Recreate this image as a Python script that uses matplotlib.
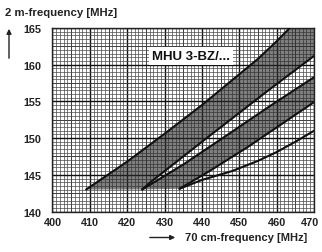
import matplotlib
matplotlib.use("Agg")
import matplotlib.pyplot as plt
from matplotlib.ticker import MultipleLocator
from matplotlib.transforms import ScaledTranslation
import numpy as np

# ---- data ----
x_ticks = [400, 410, 420, 430, 440, 450, 460, 470]
y_ticks = [140, 145, 150, 155, 160, 165]

band_a_upper_x = [409, 420, 430, 440, 450, 455, 460, 463.5, 470]
band_a_upper_y = [143, 146.8, 150.6, 154.5, 158.7, 160.8, 163.2, 165.0, 168.5]
band_a_lower_x = [424, 426, 440, 458, 470]
band_a_lower_y = [143, 143.9, 149.5, 156.6, 161.2]

band_b_upper_x = [424, 435, 447, 458, 470]
band_b_upper_y = [143, 146.4, 150.5, 154.3, 158.3]
band_b_lower_x = [434, 442, 452, 461, 470]
band_b_lower_y = [143.1, 145.5, 148.7, 151.8, 154.9]

curve_c_x = [434, 437, 440, 448, 455, 460, 465, 470]
curve_c_y = [143.1, 143.7, 144.3, 145.5, 146.9, 148.1, 149.5, 151.0]

label_text = "MHU 3-BZ/..."
y_title = "2 m-frequency [MHz]"
x_title = "70 cm-frequency [MHz]"

font = ["Liberation Sans", "DejaVu Sans"]
plt.rcParams['font.family'] = font

fig = plt.figure(figsize=(3.22, 2.53), dpi=100)
ax = fig.add_axes([0.163, 0.160, 0.812, 0.725])
ax.set_xlim(400, 470)
ax.set_ylim(140, 165)

# graph-paper grid
ax.xaxis.set_major_locator(MultipleLocator(10))
ax.yaxis.set_major_locator(MultipleLocator(5))
ax.xaxis.set_minor_locator(MultipleLocator(1))
ax.yaxis.set_minor_locator(MultipleLocator(0.5))
ax.grid(which='minor', color='#4a4a4a', lw=0.5, zorder=0)
ax.grid(which='major', color='#111111', lw=1.0, zorder=0)
for xm in np.arange(405, 470, 10):
    ax.axvline(xm, color='#2a2a2a', lw=0.7, zorder=0)
for ym in np.arange(142.5, 165, 5):
    ax.axhline(ym, color='#2a2a2a', lw=0.7, zorder=0)
ax.set_axisbelow(True)

ax.set_xticks(x_ticks)
ax.set_yticks(y_ticks)
ax.tick_params(which='both', length=0)
ax.tick_params(axis='x', pad=4)
ax.tick_params(axis='y', pad=8)
for lab in ax.get_xticklabels() + ax.get_yticklabels():
    lab.set_fontsize(7.8)
    lab.set_fontweight('bold')
    lab.set_color('#222222')
last = ax.get_xticklabels()[-1]
last.set_transform(last.get_transform() + ScaledTranslation(-4 / 100, 0, fig.dpi_scale_trans))
for s in ax.spines.values():
    s.set_linewidth(1.0)
    s.set_color('#222222')

# bands
fill_col = '#2a2a2a'
ax_x = band_a_upper_x + band_a_lower_x[::-1]
ax_y = band_a_upper_y + band_a_lower_y[::-1]
ax.fill(ax_x, ax_y, color=fill_col, alpha=0.6, lw=0, zorder=2)
bx = band_b_upper_x + band_b_lower_x[::-1]
by = band_b_upper_y + band_b_lower_y[::-1]
ax.fill(bx, by, color=fill_col, alpha=0.6, lw=0, zorder=2)

lc = '#111111'
for xs, ys in [(band_a_upper_x, band_a_upper_y), (band_a_lower_x, band_a_lower_y),
               (band_b_upper_x, band_b_upper_y), (band_b_lower_x, band_b_lower_y),
               (curve_c_x, curve_c_y)]:
    ax.plot(xs, ys, color=lc, lw=1.5, zorder=3, solid_capstyle='round')

ax.text(437.1, 161.2, label_text, ha='center', va='center', fontsize=9.5,
        fontweight='bold', color='#111111', zorder=5,
        bbox=dict(facecolor='white', edgecolor='none', boxstyle='square,pad=0.2'))

# axis titles
fig.text(0.016, 0.949, y_title, ha='left', va='center', fontsize=8.2,
         fontweight='bold', color='#222222')
fig.text(0.575, 0.058, x_title, ha='left', va='center', fontsize=8.0,
         fontweight='bold', color='#222222')

# arrows
ax.annotate('', xy=(9, 253 - 27), xytext=(9, 253 - 62), xycoords='figure pixels',
            textcoords='figure pixels',
            arrowprops=dict(arrowstyle='-|>', lw=1.0, color='#222222', mutation_scale=7))
ax.annotate('', xy=(178, 253 - 238.5), xytext=(147, 253 - 238.5), xycoords='figure pixels',
            textcoords='figure pixels',
            arrowprops=dict(arrowstyle='-|>', lw=1.0, color='#222222', mutation_scale=7))

fig.savefig('out.png', dpi=100)
